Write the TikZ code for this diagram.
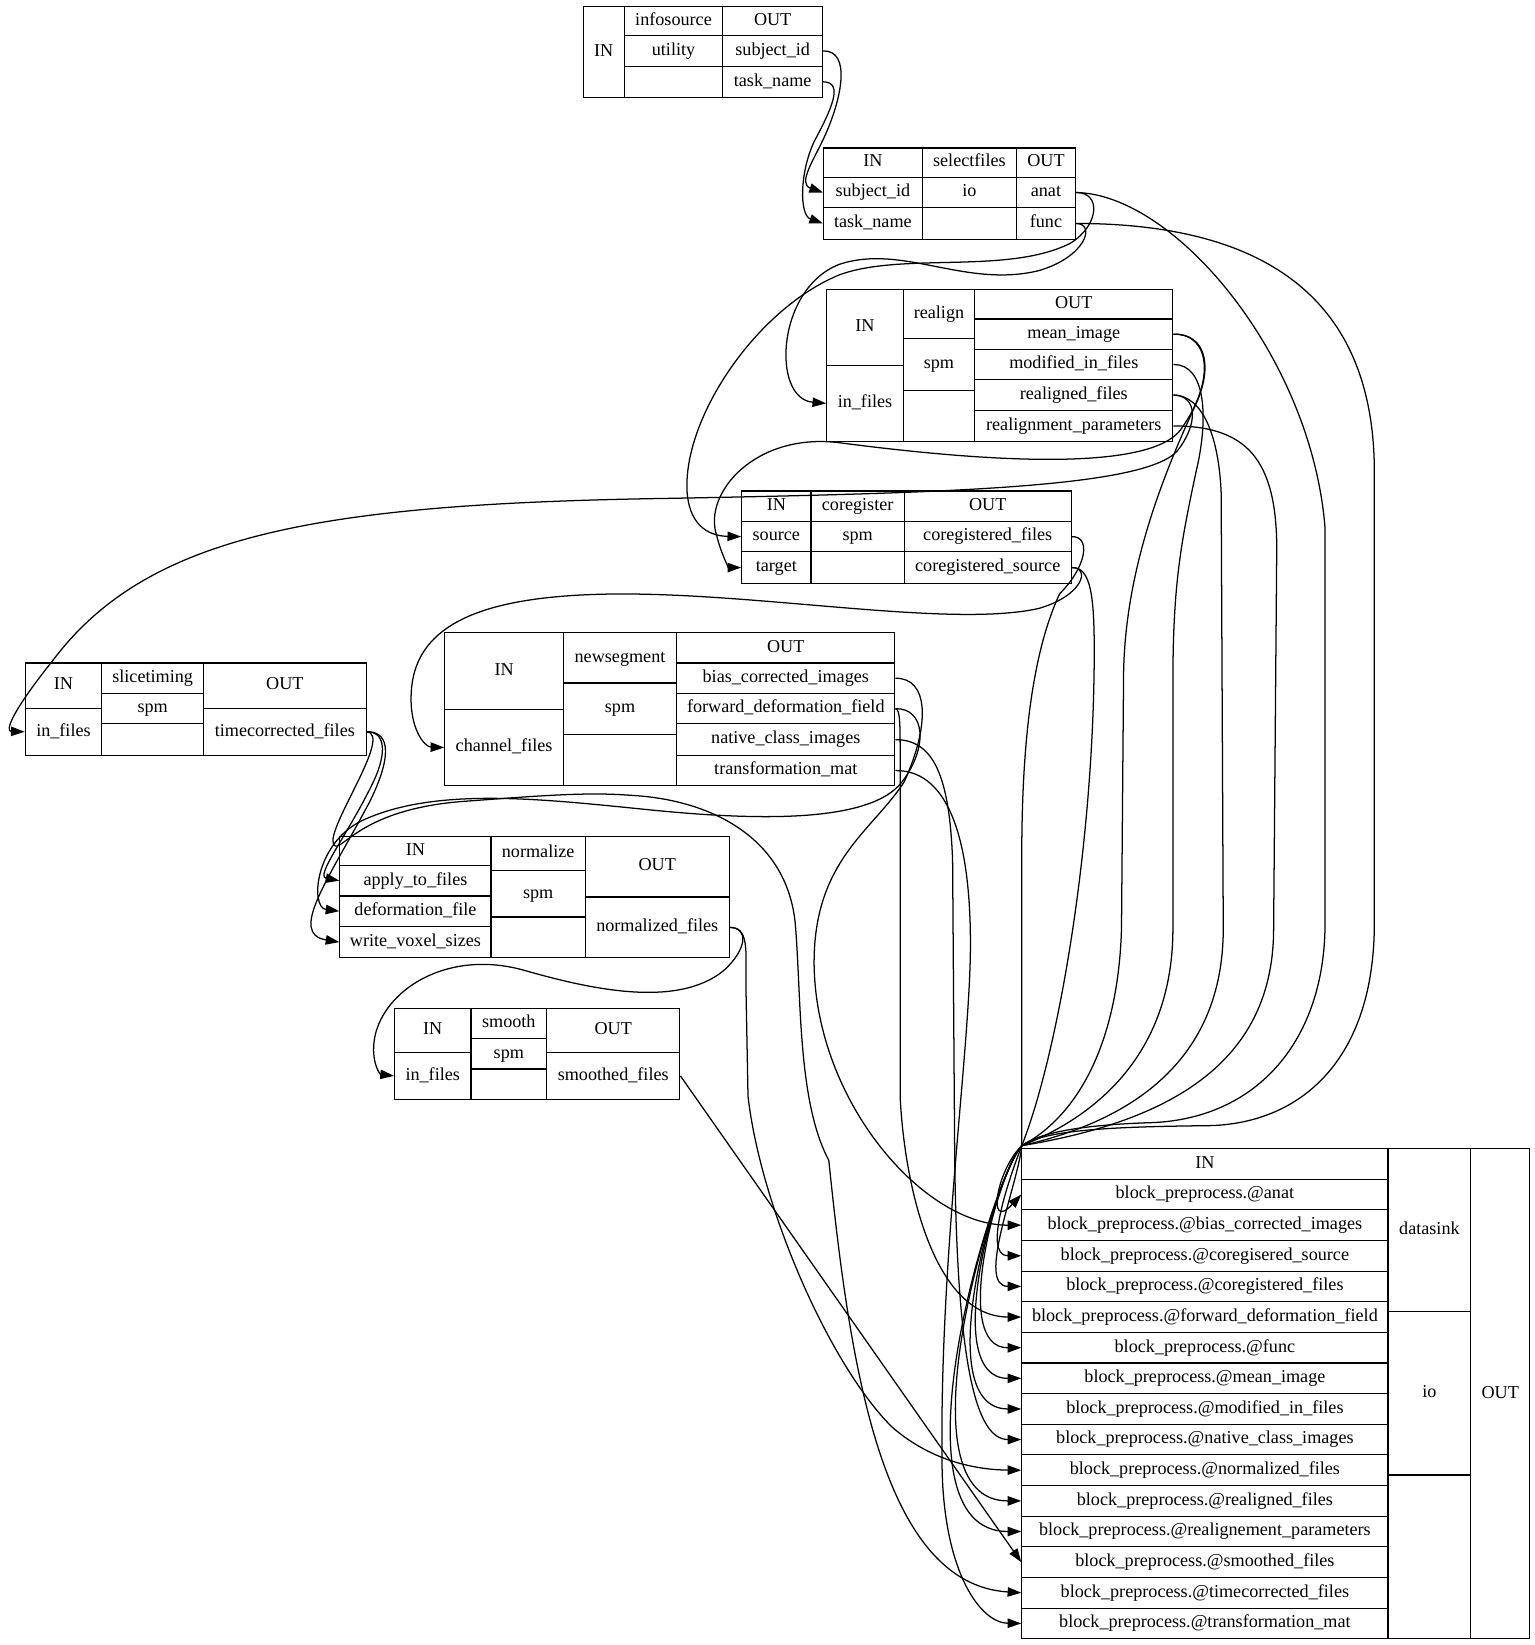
\documentclass[tikz,border=0pt]{standalone}
\usepackage{fontspec}
\setmainfont{Liberation Serif}
\usetikzlibrary{arrows.meta}

\tikzset{
  cell/.style={draw, line width=1.1pt, inner sep=0pt, text height=12.2pt, text depth=4pt},
  wire/.style={line width=1.2pt, -{Triangle[length=13pt,width=9pt]}},
}
\newcommand{\portcell}[6]{%
  \node[cell, minimum width={#4-#2}, minimum height={#5-#3}] (#1) at ({(#2+#4)/2},{(#3+#5)/2}) {#6};}

\begin{document}
\begin{tikzpicture}[x=1pt, y=-1pt, font=\fontsize{17.3}{20}\selectfont]
\useasboundingbox (0,0) rectangle (1463,1568);

% infosource
\portcell{isin}{556}{6}{595}{93}{IN}
\portcell{isname}{595}{6}{689}{34}{infosource}
\portcell{istype}{595}{34}{689}{63}{utility}
\portcell{isblank}{595}{63}{689}{93}{}
\portcell{isout}{689}{6}{784}{34}{OUT}
\portcell{issubj}{689}{34}{784}{63}{subject\_id}
\portcell{istask}{689}{63}{784}{93}{task\_name}

% selectfiles
\portcell{sfin}{785}{141}{879}{169}{IN}
\portcell{sfsubj}{785}{169}{879}{198}{subject\_id}
\portcell{sftask}{785}{198}{879}{228}{task\_name}
\portcell{sfname}{879}{141}{969}{169}{selectfiles}
\portcell{sftype}{879}{169}{969}{198}{io}
\portcell{sfblank}{879}{198}{969}{228}{}
\portcell{sfout}{969}{141}{1025}{169}{OUT}
\portcell{sfanat}{969}{169}{1025}{198}{anat}
\portcell{sffunc}{969}{198}{1025}{228}{func}

% realign
\portcell{rain}{788}{276}{861}{348}{IN}
\portcell{rainf}{788}{348}{861}{421}{in\_files}
\portcell{raname}{861}{276}{929}{323}{realign}
\portcell{ratype}{861}{323}{929}{372}{spm}
\portcell{rablank}{861}{372}{929}{421}{}
\portcell{raout}{929}{276}{1118}{304}{OUT}
\portcell{ramean}{929}{304}{1118}{333}{mean\_image}
\portcell{ramod}{929}{333}{1118}{362}{modified\_in\_files}
\portcell{rareal}{929}{362}{1118}{391}{realigned\_files}
\portcell{rapar}{929}{391}{1118}{421}{realignment\_parameters}

% coregister
\portcell{crin}{707}{468}{773}{497}{IN}
\portcell{crsrc}{707}{497}{773}{526}{source}
\portcell{crtgt}{707}{526}{773}{556}{target}
\portcell{crname}{773}{468}{862}{497}{coregister}
\portcell{crtype}{773}{497}{862}{526}{spm}
\portcell{crblank}{773}{526}{862}{556}{}
\portcell{crout}{862}{468}{1021}{497}{OUT}
\portcell{crfiles}{862}{497}{1021}{526}{coregistered\_files}
\portcell{crsource}{862}{526}{1021}{556}{coregistered\_source}

% slicetiming
\portcell{stin}{24}{632}{97}{675}{IN}
\portcell{stinf}{24}{675}{97}{720}{in\_files}
\portcell{stname}{97}{632}{194}{661}{slicetiming}
\portcell{sttype}{97}{661}{194}{690}{spm}
\portcell{stblank}{97}{690}{194}{720}{}
\portcell{stout}{194}{632}{349}{675}{OUT}
\portcell{sttc}{194}{675}{349}{720}{timecorrected\_files}

% newsegment
\portcell{nsin}{424}{603}{537}{676}{IN}
\portcell{nschan}{424}{676}{537}{749}{channel\_files}
\portcell{nsname}{537}{603}{645}{651}{newsegment}
\portcell{nstype}{537}{651}{645}{700}{spm}
\portcell{nsblank}{537}{700}{645}{749}{}
\portcell{nsout}{645}{603}{853}{632}{OUT}
\portcell{nsbias}{645}{632}{853}{661}{bias\_corrected\_images}
\portcell{nsfwd}{645}{661}{853}{690}{forward\_deformation\_field}
\portcell{nsnat}{645}{690}{853}{720}{native\_class\_images}
\portcell{nstm}{645}{720}{853}{749}{transformation\_mat}

% normalize
\portcell{nmin}{324}{797}{468}{825}{IN}
\portcell{nmapp}{324}{825}{468}{854}{apply\_to\_files}
\portcell{nmdef}{324}{854}{468}{883}{deformation\_file}
\portcell{nmvox}{324}{883}{468}{913}{write\_voxel\_sizes}
\portcell{nmname}{468}{797}{558}{830}{normalize}
\portcell{nmtype}{468}{830}{558}{874}{spm}
\portcell{nmblank}{468}{874}{558}{913}{}
\portcell{nmout}{558}{797}{695}{855}{OUT}
\portcell{nmfiles}{558}{855}{695}{913}{normalized\_files}

% smooth
\portcell{smin}{376}{961}{449}{1003}{IN}
\portcell{sminf}{376}{1003}{449}{1048}{in\_files}
\portcell{smname}{449}{961}{521}{990}{smooth}
\portcell{smtype}{449}{990}{521}{1019}{spm}
\portcell{smblank}{449}{1019}{521}{1048}{}
\portcell{smout}{521}{961}{648}{1003}{OUT}
\portcell{smfiles}{521}{1003}{648}{1048}{smoothed\_files}

% datasink
\portcell{dsin}{974}{1095}{1323}{1124}{IN}
\foreach \k/\t [count=\i] in {anat/anat, bias/bias\_corrected\_images,
    csrc/coregisered\_source, cfiles/coregistered\_files,
    fwd/forward\_deformation\_field, func/func, mean/mean\_image,
    mod/modified\_in\_files, nat/native\_class\_images,
    norm/normalized\_files, real/realigned\_files,
    par/realignement\_parameters, smooth/smoothed\_files,
    tc/timecorrected\_files, tm/transformation\_mat} {
  \pgfmathsetmacro{\ya}{1124+29.2*(\i-1)}
  \pgfmathsetmacro{\yb}{1124+29.2*\i}
  \portcell{ds\k}{974}{\ya}{1323}{\yb}{block\_preprocess.@\t}
}
\portcell{dsname}{1323}{1095}{1402}{1250}{datasink}
\portcell{dstype}{1323}{1250}{1402}{1406}{io}
\portcell{dsblank}{1323}{1406}{1402}{1562}{}
\portcell{dsout}{1402}{1095}{1458}{1562}{OUT}

% connections between processing nodes
\draw[wire] (issubj.east) .. controls (812,48) and (802,95) .. (786,130) .. controls (776,152) and (760,175) .. (sfsubj.west);
\draw[wire] (istask.east) .. controls (805,78) and (792,105) .. (776,135) .. controls (762,165) and (762,205) .. (sftask.west);
\draw[wire] (sffunc.east) .. controls (1045,213) and (1035,245) .. (990,258) .. controls (920,275) and (860,232) .. (800,252) .. controls (740,275) and (735,380) .. (rainf.west);
\draw[wire] (sfanat.east) .. controls (1050,183) and (1048,215) .. (1020,232) .. controls (960,262) and (860,240) .. (800,262) .. controls (720,295) and (650,400) .. (655,470) .. controls (658,505) and (680,511) .. (crsrc.west);
\draw[wire] (ramean.east) .. controls (1155,318) and (1158,365) .. (1125,410) .. controls (1090,455) and (900,435) .. (800,422) .. controls (720,412) and (670,470) .. (683,510) .. controls (688,530) and (695,541) .. (crtgt.west);
\draw[wire] (rareal.east) .. controls (1142,377) and (1142,405) .. (1122,430) .. controls (1090,465) and (900,470) .. (640,475) .. controls (300,480) and (140,510) .. (50,630) .. controls (10,680) and (5,697) .. (stinf.west);
\draw[wire] (crsource.east) .. controls (1040,541) and (1032,568) .. (990,580) .. controls (900,600) and (700,560) .. (557,567) .. controls (450,572) and (395,600) .. (392,660) .. controls (390,695) and (405,712) .. (nschan.west);
\draw[wire] (sttc.east) .. controls (366,697) and (370,715) .. (356,745) .. controls (332,795) and (300,835) .. (nmapp.west);
\draw[wire] (sttc.east) .. controls (374,697) and (372,725) .. (352,765) .. controls (312,840) and (275,890) .. (nmvox.west);
\draw[wire] (nsfwd.east) .. controls (882,675) and (885,712) .. (860,745) .. controls (830,785) and (720,782) .. (620,772) .. controls (520,762) and (420,750) .. (350,780) .. controls (300,800) and (295,865) .. (nmdef.west);
\draw[wire] (nmfiles.east) .. controls (714,884) and (712,905) .. (690,925) .. controls (645,962) and (560,942) .. (500,925) .. controls (430,905) and (370,940) .. (358,985) .. controls (352,1010) and (362,1024) .. (sminf.west);

% connections into datasink
\coordinate (hub) at (974,1092);
\draw[wire] (sfanat.east) .. controls (1120,185) and (1250,340) .. (1263,503) -- (1263,880) .. controls (1263,990) and (1200,1065) .. (1100,1070) .. controls (1030,1072) and (990,1080) .. (hub) .. controls (950,1115) and (940,1175) .. (dsanat.west);
\draw[wire] (sffunc.east) .. controls (1200,213) and (1310,280) .. (1310,450) -- (1310,880) .. controls (1310,1010) and (1240,1072) .. (1150,1073) .. controls (1050,1074) and (995,1078) .. (hub) .. controls (952,1115) and (905,1285) .. (dsfunc.west);
\draw[wire] (ramean.east) .. controls (1150,318) and (1156,350) .. (1140,385) .. controls (1110,450) and (1073,540) .. (1071,640) -- (1069,885) .. controls (1066,990) and (1030,1062) .. (hub) .. controls (950,1118) and (895,1314) .. (dsmean.west);
\draw[wire] (ramod.east) .. controls (1150,347) and (1152,400) .. (1140,450) .. controls (1125,520) and (1118,560) .. (1118,650) -- (1118,885) .. controls (1118,1000) and (1050,1062) .. (hub) .. controls (948,1120) and (885,1343) .. (dsmod.west);
\draw[wire] (rareal.east) .. controls (1148,377) and (1162,420) .. (1164,470) -- (1166,885) .. controls (1166,1010) and (1080,1068) .. (hub) .. controls (945,1125) and (855,1431) .. (dsreal.west);
\draw[wire] (rapar.east) .. controls (1190,406) and (1216,440) .. (1217,520) -- (1214,885) .. controls (1214,1010) and (1120,1068) .. (hub) .. controls (943,1128) and (845,1460) .. (dspar.west);
\draw[wire] (crfiles.east) .. controls (1040,511) and (1036,540) .. (1010,566) .. controls (985,620) and (975,700) .. (974,800) -- (hub) .. controls (970,1130) and (930,1226) .. (dscfiles.west);
\draw[wire] (crsource.east) .. controls (1040,540) and (1043,570) .. (1043,620) .. controls (1043,800) and (1010,1000) .. (hub) .. controls (965,1115) and (935,1197) .. (dscsrc.west);
\draw[wire] (nsbias.east) .. controls (885,646) and (887,690) .. (862,745) .. controls (832,792) and (775,820) .. (776,920) .. controls (778,1050) and (880,1168) .. (dsbias.west);
\draw[wire] (nsfwd.east) .. controls (858,676) and (858,690) .. (858,720) -- (858,1045) .. controls (862,1130) and (890,1255) .. (dsfwd.west);
\draw[wire] (nsnat.east) .. controls (890,705) and (905,740) .. (908,820) -- (910,1100) .. controls (912,1300) and (930,1372) .. (dsnat.west);
\draw[wire] (nstm.east) .. controls (900,734) and (925,790) .. (925,900) .. controls (925,1000) and (895,1200) .. (898,1400) .. controls (900,1500) and (935,1547) .. (dstm.west);
\draw[wire] (nmfiles.east) .. controls (714,884) and (711,905) .. (711,940) -- (713,1045) .. controls (725,1150) and (790,1300) .. (850,1360) .. controls (890,1395) and (935,1401) .. (dsnorm.west);
\draw[wire] (smfiles.east) -- (dssmooth.west);
\draw[wire] (sttc.east) .. controls (375,700) and (310,790) .. (318,805) .. controls (325,815) and (340,772) .. (440,764) .. controls (520,758) and (560,755) .. (600,758) .. controls (680,762) and (750,800) .. (758,880) .. controls (764,950) and (760,1050) .. (790,1106) .. controls (810,1300) and (840,1510) .. (dstc.west);
\end{tikzpicture}
\end{document}
